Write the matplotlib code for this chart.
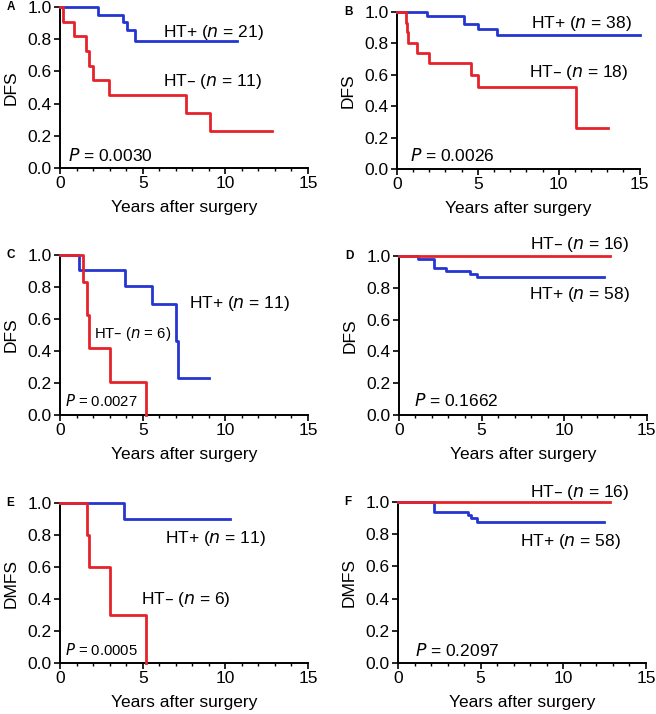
import matplotlib
matplotlib.use("Agg")
import matplotlib.pyplot as plt
from matplotlib.ticker import MultipleLocator

plt.rcParams['font.family'] = ['Liberation Sans', 'DejaVu Sans']

RED = '#e5232a'
BLUE = '#2435d0'

# panel A (DFS)
a_pos_t = [0, 2.32, 3.8, 4.03, 4.54, 10.73]
a_pos_s = [1.0, 0.952, 0.905, 0.857, 0.786, 0.786]
a_neg_t = [0, 0.2, 0.85, 1.55, 1.77, 1.97, 2.98, 7.65, 9.06, 12.85]
a_neg_s = [1.0, 0.909, 0.818, 0.727, 0.636, 0.545, 0.455, 0.341, 0.227, 0.227]

# panel B (DFS)
b_pos_t = [0, 1.89, 4.16, 5.02, 6.21, 15.0]
b_pos_s = [1.0, 0.976, 0.924, 0.89, 0.852, 0.852]
b_neg_t = [0, 0.55, 0.6, 0.7, 1.23, 2.0, 4.57, 5.02, 11.09, 13.05]
b_neg_s = [1.0, 0.93, 0.87, 0.80, 0.74, 0.672, 0.597, 0.523, 0.262, 0.262]

# panel C (DFS)
c_pos_t = [0, 1.17, 3.93, 5.54, 7.0, 7.15, 9.02]
c_pos_s = [1.0, 0.909, 0.808, 0.694, 0.463, 0.232, 0.232]
c_neg_t = [0, 1.41, 1.65, 1.73, 3.02, 5.19]
c_neg_s = [1.0, 0.833, 0.625, 0.417, 0.208, 0.0]

# panel D (DFS)
d_pos_t = [0, 1.13, 2.14, 2.88, 4.3, 4.7, 12.4]
d_pos_s = [1.0, 0.983, 0.927, 0.908, 0.889, 0.866, 0.866]
d_neg_t = [0, 12.8]
d_neg_s = [1.0, 1.0]

# panel E (DMFS)
e_pos_t = [0, 3.89, 10.27]
e_pos_s = [1.0, 0.90, 0.90]
e_neg_t = [0, 1.65, 1.73, 3.02, 5.19]
e_neg_s = [1.0, 0.80, 0.60, 0.30, 0.0]

# panel F (DMFS)
f_pos_t = [0, 2.2, 4.25, 4.4, 4.76, 12.44]
f_pos_s = [1.0, 0.94, 0.92, 0.90, 0.877, 0.877]
f_neg_t = [0, 12.84]
f_neg_s = [1.0, 1.0]

FS = 12.5
FS_SMALL = 10.7

fig = plt.figure(figsize=(6.56, 7.14), dpi=100)


def km_panel(rect, letter, ylab, pos_t, pos_s, neg_t, neg_s):
    ax = fig.add_axes(rect)
    ax.step(pos_t, pos_s, where='post', color=BLUE, lw=2.0, clip_on=False, zorder=3)
    ax.step(neg_t, neg_s, where='post', color=RED, lw=2.0, clip_on=False, zorder=4)
    ax.set_xlim(0, 15)
    ax.set_ylim(0, 1)
    ax.spines['top'].set_visible(False)
    ax.spines['right'].set_visible(False)
    for s in ['left', 'bottom']:
        ax.spines[s].set_linewidth(1.4)
    ax.xaxis.set_major_locator(MultipleLocator(5))
    ax.xaxis.set_minor_locator(MultipleLocator(1))
    ax.set_yticks([0, 0.2, 0.4, 0.6, 0.8, 1.0])
    ax.set_yticklabels([f'{v:.1f}' for v in [0, 0.2, 0.4, 0.6, 0.8, 1.0]])
    ax.tick_params(which='major', length=4, width=1.2, labelsize=FS, pad=2)
    ax.tick_params(which='minor', length=2.5, width=1.0)
    ax.set_xlabel('Years after surgery', fontsize=FS, labelpad=6)
    ax.set_ylabel(ylab, fontsize=FS, labelpad=6)
    ax.text(-0.215, 1.0, letter, transform=ax.transAxes, fontsize=8.5,
            fontweight='bold', ha='left', va='center')
    return ax


ax = km_panel([0.0915, 0.7647, 0.378, 0.2255], 'A', 'DFS', a_pos_t, a_pos_s, a_neg_t, a_neg_s)
ax.text(6.24, 0.844, 'HT+ ($\\it{n}$ = 21)', fontsize=FS, va='center')
ax.text(6.24, 0.536, 'HT– ($\\it{n}$ = 11)', fontsize=FS, va='center')
ax.text(0.5, 0.079, '$\\it{P}$ = 0.0030', fontsize=FS, va='center')

ax = km_panel([0.605, 0.7633, 0.370, 0.22], 'B', 'DFS', b_pos_t, b_pos_s, b_neg_t, b_neg_s)
ax.text(8.27, 0.926, 'HT+ ($\\it{n}$ = 38)', fontsize=FS, va='center')
ax.text(8.17, 0.612, 'HT– ($\\it{n}$ = 18)', fontsize=FS, va='center')
ax.text(0.82, 0.089, '$\\it{P}$ = 0.0026', fontsize=FS, va='center')

ax = km_panel([0.0915, 0.4188, 0.378, 0.224], 'C', 'DFS', c_pos_t, c_pos_s, c_neg_t, c_neg_s)
ax.text(7.81, 0.694, 'HT+ ($\\it{n}$ = 11)', fontsize=FS, va='center')
ax.text(2.07, 0.504, 'HT– ($\\it{n}$ = 6)', fontsize=FS_SMALL, va='center')
ax.text(0.3, 0.09, '$\\it{P}$ = 0.0027', fontsize=FS_SMALL, va='center')

ax = km_panel([0.608, 0.4188, 0.378, 0.2227], 'D', 'DFS', d_pos_t, d_pos_s, d_neg_t, d_neg_s)
ax.text(7.96, 1.073, 'HT– ($\\it{n}$ = 16)', fontsize=FS, va='center')
ax.text(7.9, 0.757, 'HT+ ($\\it{n}$ = 58)', fontsize=FS, va='center')
ax.text(0.9, 0.09, '$\\it{P}$ = 0.1662', fontsize=FS, va='center')

ax = km_panel([0.0915, 0.0714, 0.378, 0.224], 'E', 'DMFS', e_pos_t, e_pos_s, e_neg_t, e_neg_s)
ax.text(6.38, 0.78, 'HT+ ($\\it{n}$ = 11)', fontsize=FS, va='center')
ax.text(4.89, 0.40, 'HT– ($\\it{n}$ = 6)', fontsize=FS, va='center')
ax.text(0.3, 0.079, '$\\it{P}$ = 0.0005', fontsize=FS_SMALL, va='center')

ax = km_panel([0.6067, 0.0714, 0.378, 0.2255], 'F', 'DMFS', f_pos_t, f_pos_s, f_neg_t, f_neg_s)
ax.text(8.0, 1.062, 'HT– ($\\it{n}$ = 16)', fontsize=FS, va='center')
ax.text(7.4, 0.757, 'HT+ ($\\it{n}$ = 58)', fontsize=FS, va='center')
ax.text(1.03, 0.079, '$\\it{P}$ = 0.2097', fontsize=FS, va='center')

fig.savefig('out.png', dpi=100)
